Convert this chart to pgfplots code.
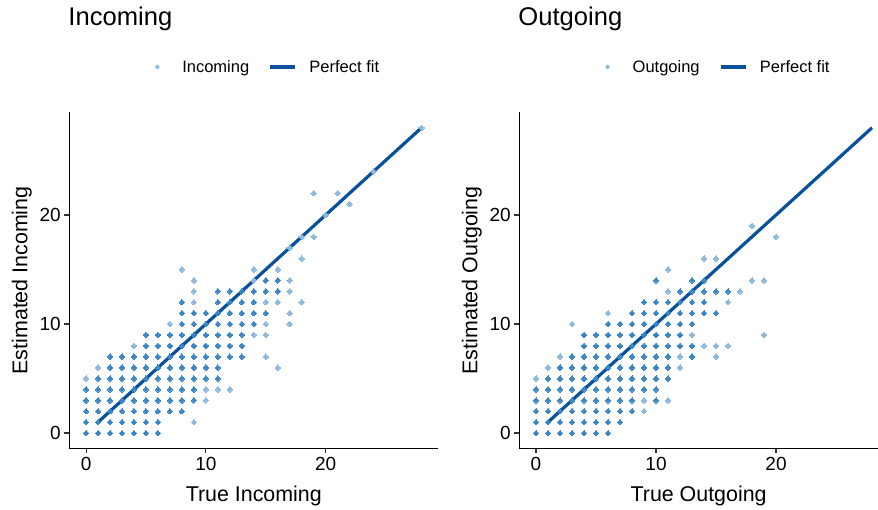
\documentclass[border=0pt]{standalone}
\usepackage{fontspec}
\setmainfont{Liberation Sans}
\usepackage{pgfplots}
\pgfplotsset{compat=1.18}

\definecolor{fitblue}{RGB}{8,81,156}
\definecolor{ptdark}{RGB}{58,134,198}
\definecolor{ptlight}{RGB}{141,185,223}

\pgfplotsset{
  panel/.style={
    scale only axis, height=335.8bp,
    ymin=-1.4, ymax=29.4, xmin=-1.4,
    axis x line*=bottom, axis y line*=left,
    axis line style={line width=1.1bp, -},
    tick align=outside, major tick length=5bp,
    tick style={line width=1.1bp, black!80},
    xtick={0,10,20}, ytick={0,10,20},
    /pgf/number format/assume math mode=true,
    ticklabel style={font=\fontsize{19bp}{22bp}\selectfont},
    label style={font=\fontsize{21.4bp}{25bp}\selectfont},
    title style={font=\fontsize{25.6bp}{30bp}\selectfont,
      at={(axis description cs:0,1)}, anchor=base west,
      inner sep=0pt, yshift=81.5bp, xshift=-1bp},
    xlabel style={at={(axis description cs:0.5,0)}, anchor=base,
      inner sep=0pt, yshift=-52.7bp},
    legend columns=-1,
    legend style={draw=none, fill=none, inner sep=0pt, outer sep=0pt,
      anchor=west, font=\fontsize{16.5bp}{19bp}\selectfont,
      nodes={inner sep=0pt},
      /tikz/every odd column/.append style={column sep=12.5bp},
      /tikz/every even column/.append style={column sep=19.5bp}},
    clip=false,
  },
  pts/.style={only marks, color=#1, mark=square*, mark size=1.95bp,
    mark options={rotate=45, draw=#1, fill=#1, line width=0pt}},
  ptkey/.style={legend image code/.code={
    \path[draw=none, fill=none] (0,-5bp) rectangle (25bp,5bp);
    \fill[ptlight, draw=none] (12.5bp,0) +(0,2.5bp) -- +(2.5bp,0) -- +(0,-2.5bp) -- +(-2.5bp,0) -- cycle;}},
  fitline/.style={fitblue, line width=3.2bp},
  fitkey/.style={legend image code/.code={
    \path[draw=none, fill=none] (0,-5bp) rectangle (25bp,5bp);
    \draw[fitblue, line width=3.2bp] (0,0) -- (25bp,0);}},
}

\begin{document}
\begin{tikzpicture}
\useasboundingbox (0,0) rectangle (878bp,510bp);

% ---------------- Incoming ----------------
\begin{axis}[panel, at={(69.3bp,61.7bp)}, anchor=south west,
  width=369bp, xmax=29.4,
  title={Incoming},
  xlabel={True Incoming}, ylabel={Estimated Incoming},
  ylabel style={at={(axis description cs:-0.1133,0.5)}, anchor=base, inner sep=0pt},
  legend style={at={(axis description cs:0.2046,1.1355)}}]
\addplot[fitline, forget plot] coordinates {(1,1) (28,28)};
% sparse points
\addplot[pts=ptlight, ptkey] coordinates {
 (9,1) (0,5) (1,6) (10,3) (10,4) (11,4) (12,4) (4,8) (7,10)
 (14,9) (15,9) (15,7) (16,6) (15,10) (17,10) (17,11)
 (9,12) (15,12) (16,12) (18,12) (9,13) (17,13)
 (9,14) (14,14) (17,14) (8,15) (14,15) (16,15)
 (18,16) (17,17) (18,18) (19,18) (20,20) (22,21) (19,22) (21,22)
 (24,24) (28,28)};
\addlegendentry{Incoming}
% dense points
\addplot[pts=ptdark, forget plot] coordinates {
 (0,0) (1,0) (2,0) (3,0) (4,0) (5,0) (6,0)
 (0,1) (1,1) (2,1) (3,1) (4,1) (5,1) (6,1)
 (0,2) (1,2) (2,2) (3,2) (4,2) (5,2) (6,2) (7,2) (8,2)
 (0,3) (1,3) (2,3) (3,3) (4,3) (5,3) (6,3) (7,3) (8,3) (9,3)
 (0,4) (1,4) (2,4) (3,4) (4,4) (5,4) (6,4) (7,4) (8,4) (9,4)
 (1,5) (2,5) (3,5) (4,5) (5,5) (6,5) (7,5) (8,5) (9,5) (10,5) (11,5)
 (2,6) (3,6) (4,6) (5,6) (6,6) (7,6) (8,6) (9,6) (10,6) (11,6)
 (2,7) (3,7) (4,7) (5,7) (6,7) (7,7) (8,7) (9,7) (10,7) (11,7) (12,7) (13,7)
 (5,8) (6,8) (7,8) (8,8) (9,8) (10,8) (11,8) (12,8) (13,8)
 (5,9) (6,9) (7,9) (8,9) (9,9) (10,9) (11,9) (12,9) (13,9)
 (8,10) (9,10) (10,10) (11,10) (12,10) (13,10) (14,10)
 (8,11) (9,11) (10,11) (11,11) (12,11) (13,11) (14,11) (15,11)
 (8,12) (11,12) (12,12) (13,12) (14,12)
 (11,13) (12,13) (13,13) (14,13) (15,13) (16,13)
 (15,14) (16,14)};
\addlegendimage{fitkey}
\addlegendentry{Perfect fit}
\end{axis}

% ---------------- Outgoing ----------------
\begin{axis}[panel, at={(519.2bp,61.7bp)}, anchor=south west,
  width=358.8bp, xmax=28.5,
  title={Outgoing},
  xlabel={True Outgoing}, ylabel={Estimated Outgoing},
  ylabel style={at={(axis description cs:-0.1165,0.5)}, anchor=base, inner sep=0pt},
  legend style={at={(axis description cs:0.2118,1.1355)}}]
\addplot[fitline, forget plot] coordinates {(1,1) (28,28)};
% sparse points
\addplot[pts=ptlight, ptkey] coordinates {
 (9,2) (9,3) (11,3) (0,5) (1,6) (12,6) (2,7) (12,7) (15,7)
 (14,8) (15,8) (16,8) (13,9) (19,9) (3,10) (6,11) (16,12)
 (11,13) (17,13) (18,14) (19,14) (11,15) (14,16) (15,16)
 (20,18) (18,19)};
\addlegendentry{Outgoing}
% dense points
\addplot[pts=ptdark, forget plot] coordinates {
 (0,0) (1,0) (2,0) (3,0) (4,0) (5,0) (6,0)
 (0,1) (1,1) (2,1) (3,1) (4,1) (5,1) (6,1) (7,1)
 (0,2) (1,2) (2,2) (3,2) (4,2) (5,2) (6,2) (7,2) (8,2)
 (0,3) (1,3) (2,3) (3,3) (4,3) (5,3) (6,3) (7,3) (8,3) (10,3)
 (0,4) (1,4) (2,4) (3,4) (4,4) (5,4) (6,4) (7,4) (8,4) (9,4) (10,4)
 (1,5) (2,5) (3,5) (4,5) (5,5) (6,5) (7,5) (8,5) (9,5) (10,5) (11,5)
 (2,6) (3,6) (4,6) (5,6) (6,6) (7,6) (8,6) (9,6) (10,6) (11,6)
 (3,7) (4,7) (5,7) (6,7) (7,7) (8,7) (9,7) (10,7) (11,7) (13,7)
 (4,8) (5,8) (6,8) (7,8) (8,8) (9,8) (10,8) (11,8) (12,8) (13,8)
 (4,9) (5,9) (6,9) (7,9) (8,9) (9,9) (10,9) (11,9) (12,9)
 (6,10) (7,10) (8,10) (9,10) (10,10) (11,10) (12,10) (13,10)
 (8,11) (9,11) (10,11) (11,11) (12,11) (13,11) (14,11) (15,11)
 (9,12) (10,12) (11,12) (12,12) (13,12) (14,12)
 (12,13) (13,13) (14,13) (15,13) (16,13)
 (10,14) (13,14) (14,14)};
\addlegendimage{fitkey}
\addlegendentry{Perfect fit}
\end{axis}
\end{tikzpicture}
\end{document}
